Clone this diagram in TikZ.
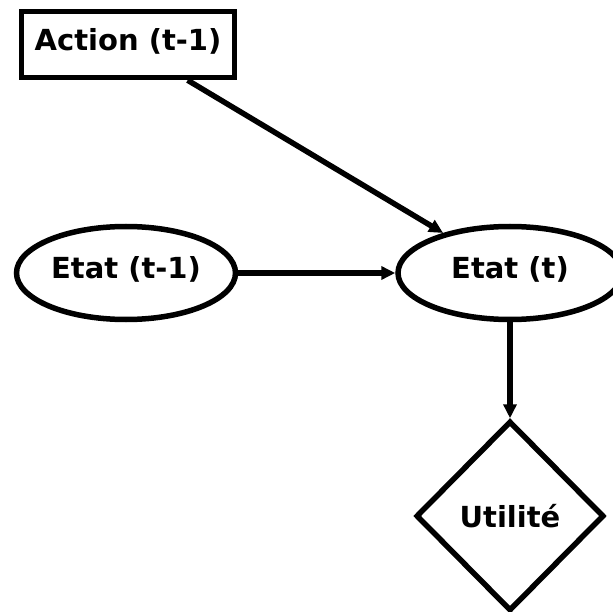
\documentclass[tikz,border=0pt]{standalone}
\usepackage{fontspec}
\setmainfont{DejaVu Sans}
\usetikzlibrary{
arrows.meta,
positioning,
shapes.geometric
}
\tikzset{>={Triangle[length=14pt,width=13pt]}}

\begin{document}
\begin{tikzpicture}[x=1pt, y=-1pt, line width=5.5pt, font=\fontsize{29}{35}\selectfont\bfseries]
		\tikzset{etat/.style={draw,shape=ellipse,inner sep=0pt,text depth=11pt,minimum width=219pt,minimum height=93pt}}
		
		\useasboundingbox (0,0) rectangle (613,612);
		
		\node[draw,text depth=11pt,minimum width=213pt,minimum height=66pt] (action) at (128,44.5) {Action (t-1)};
		
		\node[etat] (etatprev) at (126,273) {Etat (t-1)};
		\node[etat,minimum width=224pt] (etat) at (510,273) {Etat (t)};
		
		\node[draw,shape=diamond,inner sep=0pt,minimum width=188pt,minimum height=190pt] (util) at (510,516) {Utilité};
		
		\draw[->] (action) -- (etat);
		\draw[->] (etatprev) -- (etat);
		\draw[->] (etat) -- (util);
	\end{tikzpicture}
\end{document}
